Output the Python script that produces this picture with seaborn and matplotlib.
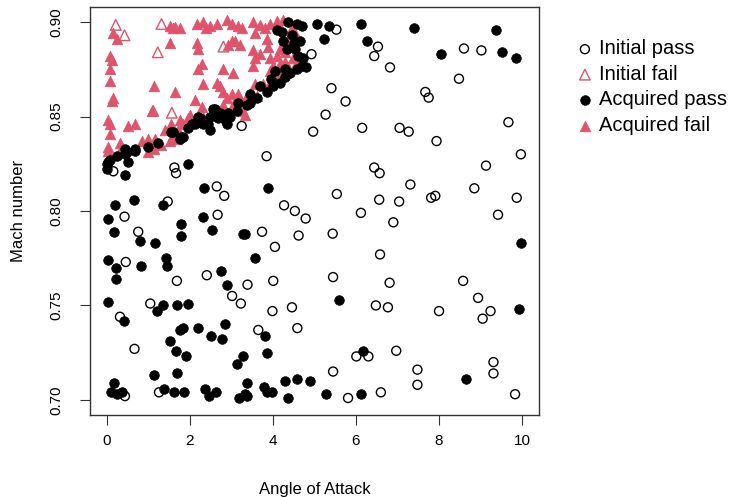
import matplotlib
matplotlib.use("Agg")
import matplotlib.pyplot as plt
import pandas as pd
import seaborn as sns

RED = "#DF536B"

# initial design points that passed
init_pass_x = [5.53, 4.93, 6.53, 6.44, 6.82, 5.41, 5.75, 5.27, 6.15, 4.97, 3.25, 2.89,
               8.60, 9.02, 8.48, 7.67, 7.75, 7.05, 7.27, 7.94, 9.67,
               9.97, 9.13, 7.31, 7.04, 7.81, 7.91, 8.85, 9.87, 9.42, 6.90, 8.58,
               3.85, 6.44, 6.57, 5.54, 6.56, 4.27, 4.53, 4.79, 6.12,
               3.74, 4.62, 5.44, 4.05, 6.58, 4.01, 5.45, 6.81,
               0.16, 1.63, 1.67, 2.65, 2.83, 1.47, 0.43, 2.67, 0.76, 0.46, 2.41, 1.69,
               3.02, 3.23, 1.05, 0.32, 0.67, 0.44, 1.26,
               3.39, 6.48, 6.77, 3.99, 4.46, 3.65, 4.59, 6.01, 6.30, 6.97,
               5.45, 5.81, 6.60,
               8.94, 8.00, 9.24, 9.05, 7.48, 7.48, 9.31, 9.31, 9.83]
init_pass_y = [0.896, 0.883, 0.887, 0.882, 0.876, 0.865, 0.858, 0.851, 0.844, 0.842, 0.845, 0.847,
               0.886, 0.885, 0.870, 0.863, 0.860, 0.844, 0.842, 0.837, 0.847,
               0.830, 0.824, 0.814, 0.805, 0.807, 0.808, 0.812, 0.807, 0.798, 0.794, 0.763,
               0.829, 0.823, 0.820, 0.809, 0.806, 0.803, 0.800, 0.796, 0.799,
               0.789, 0.787, 0.788, 0.781, 0.777, 0.763, 0.765, 0.762,
               0.821, 0.823, 0.820, 0.813, 0.808, 0.805, 0.797, 0.798, 0.789, 0.773, 0.766, 0.763,
               0.755, 0.751, 0.751, 0.744, 0.727, 0.702, 0.704,
               0.761, 0.750, 0.749, 0.747, 0.749, 0.737, 0.738, 0.723, 0.723, 0.726,
               0.715, 0.701, 0.704,
               0.754, 0.747, 0.747, 0.743, 0.716, 0.708, 0.720, 0.714, 0.703]

# initial design points that failed
init_fail_x = [0.22, 0.43, 1.32, 1.23, 2.81, 1.12, 1.57]
init_fail_y = [0.8985, 0.893, 0.899, 0.884, 0.887, 0.853, 0.852]

# acquired points that passed
acq_pass_x = [7.40, 9.38, 8.04, 9.52, 9.85, 6.13, 5.07, 5.35, 5.23, 6.27,
              4.37, 4.57, 4.69, 4.09, 4.21, 4.25, 4.33, 4.53, 4.61, 4.73, 4.69, 4.81, 4.57,
              4.41, 4.29, 4.29, 4.17, 4.01, 3.85, 3.69, 3.61, 3.45, 3.45, 3.37, 3.17, 3.13,
              2.93, 2.97, 2.73, 2.61, 2.81, 2.69, 2.89, 2.49, 2.45, 2.49, 2.25, 2.17, 2.32,
              2.05, 1.96, 1.84, 1.76, 1.60, 2.56, 2.20, 2.13, 1.80, 1.56, 1.24, 1.00, 0.68,
              0.44, 0.08, 0.24, 0.44, 0.48, 0.68, 0.00, 0.00, 0.04, 0.52, 0.43, 1.95,
              4.45, 4.50, 4.65, 3.95, 4.05,
              3.89, 3.33, 3.58, 9.98,
              2.35, 0.65, 0.20, 1.35, 0.04, 2.32, 1.80, 2.54, 0.17, 1.79, 3.29, 0.81, 1.16,
              0.04, 0.23, 0.83, 1.44, 1.45, 0.23, 2.75, 2.89,
              0.03, 1.20, 1.36, 1.69, 1.96, 0.41, 1.76, 1.84, 2.20, 2.85, 2.51, 2.77, 1.53,
              1.67, 1.91, 3.13, 3.29, 1.13, 1.69, 0.17, 0.11, 0.24, 0.38, 1.39, 1.61, 1.86,
              2.37, 2.47, 2.62, 3.18, 3.33,
              5.59, 3.81, 3.87, 6.17, 3.39, 3.78, 3.87, 3.98, 4.29, 4.57, 4.89, 3.37, 4.37,
              5.29, 6.12, 9.92, 8.65]
acq_pass_y = [0.897, 0.896, 0.883, 0.884, 0.881, 0.899, 0.899, 0.898, 0.891, 0.890,
              0.900, 0.899, 0.898, 0.896, 0.895, 0.890, 0.886, 0.886, 0.882, 0.881, 0.877, 0.876, 0.875,
              0.873, 0.875, 0.871, 0.868, 0.866, 0.863, 0.866, 0.860, 0.862, 0.857, 0.856, 0.857, 0.853,
              0.852, 0.850, 0.852, 0.854, 0.849, 0.849, 0.846, 0.850, 0.846, 0.843, 0.849, 0.847, 0.846,
              0.846, 0.844, 0.839, 0.838, 0.842, 0.854, 0.850, 0.846, 0.839, 0.842, 0.836, 0.834, 0.833,
              0.833, 0.827, 0.829, 0.830, 0.831, 0.832, 0.825, 0.822, 0.826, 0.826, 0.819, 0.825,
              0.893, 0.889, 0.890, 0.870, 0.874,
              0.812, 0.788, 0.775, 0.783,
              0.812, 0.806, 0.803, 0.803, 0.796, 0.797, 0.793, 0.790, 0.789, 0.787, 0.788, 0.784, 0.783,
              0.774, 0.770, 0.771, 0.775, 0.771, 0.764, 0.768, 0.761,
              0.752, 0.747, 0.750, 0.750, 0.751, 0.742, 0.737, 0.738, 0.738, 0.740, 0.734, 0.732, 0.731,
              0.726, 0.723, 0.719, 0.723, 0.713, 0.714, 0.709, 0.704, 0.703, 0.704, 0.706, 0.704, 0.704,
              0.706, 0.702, 0.704, 0.701, 0.703,
              0.753, 0.734, 0.725, 0.726, 0.709, 0.707, 0.704, 0.704, 0.710, 0.711, 0.710, 0.702, 0.701,
              0.703, 0.703, 0.748, 0.711]

# acquired points that failed
acq_fail_x = [0.16, 0.24, 0.08, 0.12, 0.08, 0.08, 0.16, 0.12, 0.04, 0.08, 0.08, 0.04, 0.04, 0.36, 0.32,
              1.52, 1.64, 1.76, 2.17, 2.32, 2.49, 2.65, 2.89, 3.17, 3.01, 3.25, 3.53, 3.69, 3.81,
              3.93, 4.09, 4.25, 2.40, 1.60,
              1.52, 2.17, 3.01, 2.93, 3.09, 3.21, 3.57, 3.85, 3.89, 3.53, 3.69, 3.57, 3.53, 4.09,
              4.17, 4.29, 4.41, 2.20,
              2.29, 2.20, 2.81, 3.05, 2.32, 2.65, 2.73, 1.15, 1.64, 2.13, 2.29, 2.00, 2.81, 2.89,
              3.17, 3.33, 3.57, 3.33, 3.01,
              3.93, 4.01, 4.17, 4.29, 4.49, 4.57, 4.37, 4.17, 3.93, 3.93, 3.77, 3.61, 3.45, 3.17,
              3.05, 2.81, 2.69, 2.49, 2.32, 2.17, 1.84, 1.72, 1.60, 1.52, 1.69, 3.29,
              1.08, 0.52, 0.68, 1.00, 1.16, 1.40, 1.56, 1.76, 1.96, 0.84, 1.00, 1.15, 1.30,
              4.45, 4.55, 4.35]
acq_fail_y = [0.894, 0.891, 0.882, 0.880, 0.875, 0.869, 0.860, 0.858, 0.848, 0.846, 0.841, 0.834, 0.832, 0.834, 0.836,
              0.898, 0.8975, 0.897, 0.899, 0.900, 0.898, 0.899, 0.901, 0.898, 0.899, 0.8966, 0.900, 0.8985, 0.8966,
              0.899, 0.9005, 0.901, 0.897, 0.8966,
              0.889, 0.889, 0.890, 0.888, 0.890, 0.888, 0.894, 0.891, 0.887, 0.885, 0.883, 0.881, 0.877, 0.882,
              0.886, 0.884, 0.888, 0.886,
              0.878, 0.875, 0.875, 0.873, 0.867, 0.868, 0.866, 0.866, 0.863, 0.859, 0.855, 0.851, 0.863, 0.860,
              0.862, 0.859, 0.867, 0.851, 0.862,
              0.881, 0.877, 0.878, 0.879, 0.881, 0.879, 0.876, 0.872, 0.874, 0.868, 0.867, 0.861, 0.860, 0.858,
              0.856, 0.856, 0.853, 0.851, 0.850, 0.848, 0.846, 0.843, 0.840, 0.837, 0.838, 0.853,
              0.853, 0.845, 0.846, 0.838, 0.838, 0.843, 0.846, 0.848, 0.849, 0.837, 0.831, 0.833, 0.835,
              0.897, 0.893, 0.890]

x_ticks = [0, 2, 4, 6, 8, 10]
y_ticks = [0.70, 0.75, 0.80, 0.85, 0.90]

sns.set_theme(style="ticks", rc={"text.color": "black", "axes.labelcolor": "black",
                                 "xtick.color": "#333333", "ytick.color": "#333333"})
plt.rcParams["font.family"] = ["Liberation Sans", "DejaVu Sans"]

fig, ax = plt.subplots(figsize=(7.38, 4.97), dpi=100)
fig.subplots_adjust(left=0.122, right=0.730, bottom=0.165, top=0.986)

sns.scatterplot(x=init_pass_x, y=init_pass_y, marker="o", s=42, facecolor="none",
                edgecolor="black", linewidth=1.0, label="Initial pass", ax=ax)
sns.scatterplot(x=init_fail_x, y=init_fail_y, marker="^", s=58, facecolor="none",
                edgecolor=RED, linewidth=1.0, label="Initial fail", ax=ax)
sns.scatterplot(x=acq_fail_x, y=acq_fail_y, marker="^", s=58, color=RED,
                edgecolor=RED, linewidth=0.5, label="Acquired fail", ax=ax)
sns.scatterplot(x=acq_pass_x, y=acq_pass_y, marker="o", s=48, color="black",
                edgecolor="black", linewidth=0.5, label="Acquired pass", ax=ax)

ax.set_xlim(-0.4, 10.4)
ax.set_ylim(0.692, 0.908)
ax.set_xticks(x_ticks)
ax.set_yticks(y_ticks)
ax.set_yticklabels([f"{v:.2f}" for v in y_ticks], rotation=90, va="center")
ax.tick_params(direction="out", length=7, width=0.8, labelsize=11, labelcolor="black")
ax.tick_params(axis="x", pad=7)
ax.tick_params(axis="y", pad=12)
for sp in ax.spines.values():
    sp.set_visible(True)
    sp.set_color("#333333")
    sp.set_linewidth(1.0)

ax.set_xlabel("Angle of Attack", fontsize=12, labelpad=24)
ax.set_ylabel("Mach number", fontsize=12, labelpad=17)

handles, labels = ax.get_legend_handles_labels()
order = ["Initial pass", "Initial fail", "Acquired pass", "Acquired fail"]
hmap = dict(zip(labels, handles))
ax.legend([hmap[k] for k in order], order, loc="upper left", bbox_to_anchor=(1.058, 0.94),
          frameon=False, fontsize=14.5, handletextpad=0.1, labelspacing=0.32,
          borderaxespad=0, handlelength=1.2)

fig.savefig("out.png", dpi=100)
